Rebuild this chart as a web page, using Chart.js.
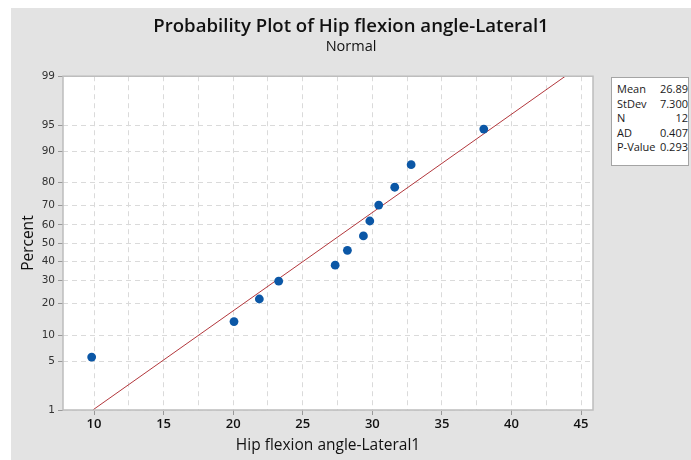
<!DOCTYPE html>
<html>
<head>
<meta charset="utf-8">
<script src="https://cdn.jsdelivr.net/npm/chart.js@4"></script>
<style>
  html, body { margin: 0; padding: 0; background: #fff; overflow: hidden; }
  #panel { position: absolute; left: 11px; top: 8px; width: 680px; height: 452px; background: #e3e3e3; }
  #c { position: absolute; left: 0; top: 0; }
  #stats {
    position: absolute; left: 611px; top: 77px; width: 78px; height: 89px;
    background: #fff; border: 1px solid #a4a4a4; box-sizing: border-box;
    padding: 4px 0 0 5px; font: 11px 'Open Sans', sans-serif; color: #1a1a1a;
  }
  #stats div { display: flex; justify-content: space-between; height: 14.6px; line-height: 14.6px; }
</style>
</head>
<body>
<div id="panel"><canvas id="c" width="680" height="452"></canvas></div>
<div id="stats"></div>
<script>
// Probability plot (normal) — Hip flexion angle-Lateral1
var angle   = [9.83, 20.06, 21.88, 23.27, 27.33, 28.21, 29.36, 29.82, 30.46, 31.61, 32.79, 38.01];
var percent = [5.6, 13.7, 21.8, 29.8, 37.9, 46.0, 54.0, 62.1, 70.2, 78.2, 86.3, 94.4];
// fitted normal line (mean 26.89, sd 7.300) between 1% and 99%
var fitAngle   = [9.91, 43.87];
var fitPercent = [1, 99];
var pctTicks = [1, 5, 10, 20, 30, 40, 50, 60, 70, 80, 90, 95, 99];
var xTicks   = [10, 12.5, 15, 17.5, 20, 22.5, 25, 27.5, 30, 32.5, 35, 37.5, 40, 42.5, 45];
var statNames  = ['Mean', 'StDev', 'N', 'AD', 'P-Value'];
var statValues = ['26.89', '7.300', '12', '0.407', '0.293'];

document.getElementById('stats').innerHTML = statNames.map(function (n, i) {
  return '<div><span>' + n + '</span><span>' + statValues[i] + '</span></div>';
}).join('');

// inverse normal CDF (Acklam)
function qnorm(p) {
  var a = [-39.69683028665376, 220.9460984245205, -275.9285104469687, 138.3577518672690, -30.66479806614716, 2.506628277459239];
  var b = [-54.47609879822406, 161.5858368580409, -155.6989798598866, 66.80131188771972, -13.28068155288572];
  var c = [-0.007784894002430293, -0.3223964580411365, -2.400758277161838, -2.549732539343734, 4.374664141464968, 2.938163982698783];
  var d = [0.007784695709041462, 0.3224671290700398, 2.445134137142996, 3.754408661907416];
  var pl = 0.02425, q, r;
  if (p < pl) {
    q = Math.sqrt(-2 * Math.log(p));
    return (((((c[0]*q+c[1])*q+c[2])*q+c[3])*q+c[4])*q+c[5]) / ((((d[0]*q+d[1])*q+d[2])*q+d[3])*q+1);
  }
  if (p > 1 - pl) {
    q = Math.sqrt(-2 * Math.log(1 - p));
    return -(((((c[0]*q+c[1])*q+c[2])*q+c[3])*q+c[4])*q+c[5]) / ((((d[0]*q+d[1])*q+d[2])*q+d[3])*q+1);
  }
  q = p - 0.5; r = q * q;
  return (((((a[0]*r+a[1])*r+a[2])*r+a[3])*r+a[4])*r+a[5])*q / (((((b[0]*r+b[1])*r+b[2])*r+b[3])*r+b[4])*r+1);
}

// normal probability axis
class ProbabilityScale extends Chart.LinearScale {
  determineDataLimits() { this.min = 1; this.max = 99; }
  buildTicks() { return pctTicks.map(function (v) { return { value: v }; }); }
  configure() {
    super.configure();
    this._zMin = qnorm(this.min / 100);
    this._zMax = qnorm(this.max / 100);
  }
  getPixelForValue(v) {
    return this.getPixelForDecimal((qnorm(v / 100) - this._zMin) / (this._zMax - this._zMin));
  }
}
ProbabilityScale.id = 'probability';
ProbabilityScale.defaults = Chart.LinearScale.defaults;
Chart.register(ProbabilityScale);

var frame = {
  id: 'frame',
  beforeDraw: function (ch) {
    var a = ch.chartArea, g = ch.ctx;
    g.save(); g.fillStyle = '#fff'; g.fillRect(a.left, a.top, a.right - a.left, a.bottom - a.top); g.restore();
  },
  afterDraw: function (ch) {
    var a = ch.chartArea, g = ch.ctx;
    g.save(); g.strokeStyle = '#bdbdbd'; g.lineWidth = 1.5;
    g.strokeRect(a.left, a.top, a.right - a.left, a.bottom - a.top); g.restore();
  }
};

var gridDash = [5, 4];
new Chart(document.getElementById('c'), {
  type: 'scatter',
  data: {
    datasets: [{
      data: angle.map(function (v, i) { return { x: v, y: percent[i] }; }),
      backgroundColor: '#0b57a6', borderColor: '#0b57a6', pointRadius: 4.4, pointBorderWidth: 0
    }, {
      type: 'line',
      data: fitAngle.map(function (v, i) { return { x: v, y: fitPercent[i] }; }),
      borderColor: '#b2373c', borderWidth: 1, pointRadius: 0, fill: false
    }]
  },
  options: {
    responsive: false, animation: false, events: [],
    layout: { padding: 0 },
    plugins: {
      legend: { display: false }, tooltip: { enabled: false },
      title: {
        display: true, text: 'Probability Plot of Hip flexion angle-Lateral1', color: '#111',
        font: { family: 'Open Sans', size: 18.6, weight: '600' }, padding: { top: 8, bottom: 0 }
      },
      subtitle: {
        display: true, text: 'Normal', color: '#111',
        font: { family: 'Open Sans', size: 14.5, weight: '500' }, padding: { top: 0, bottom: 20.5 }
      }
    },
    scales: {
      x: {
        type: 'linear', min: 7.77, max: 45.86,
        afterBuildTicks: function (s) { s.ticks = xTicks.map(function (v) { return { value: v }; }); },
        afterFit: function (s) { s.height = 50; },
        ticks: {
          color: '#111', padding: 1, font: { family: 'Open Sans', size: 13, weight: '600' },
          callback: function (v) { return v % 5 === 0 ? v : ''; }
        },
        grid: {
          color: '#dadada', tickLength: 5,
          tickColor: function (c) { return c.tick && c.tick.value % 5 === 0 ? '#999' : 'rgba(0,0,0,0)'; }
        },
        border: { display: false, dash: gridDash },
        title: {
          display: true, text: 'Hip flexion angle-Lateral1', color: '#111',
          font: { family: 'Open Sans', size: 15.5, weight: '500' }, padding: { top: 0, bottom: 5 }
        }
      },
      y: {
        type: 'probability',
        afterFit: function (s) { s.width = 52; },
        ticks: { color: '#333', padding: 3, font: { family: 'DejaVu Sans', size: 10.5 } },
        grid: { color: '#dadada', tickLength: 5, tickColor: '#999' },
        border: { display: false, dash: gridDash },
        title: {
          display: true, text: 'Percent', color: '#111',
          font: { family: 'Open Sans', size: 15.5, weight: '500' }, padding: { top: 8, bottom: 0 }
        }
      },
      y2: {
        type: 'linear', position: 'right', display: true,
        afterFit: function (s) { s.width = 98; },
        ticks: { display: false }, grid: { display: false }, border: { display: false }
      }
    }
  },
  plugins: [frame]
});
</script>
</body>
</html>
